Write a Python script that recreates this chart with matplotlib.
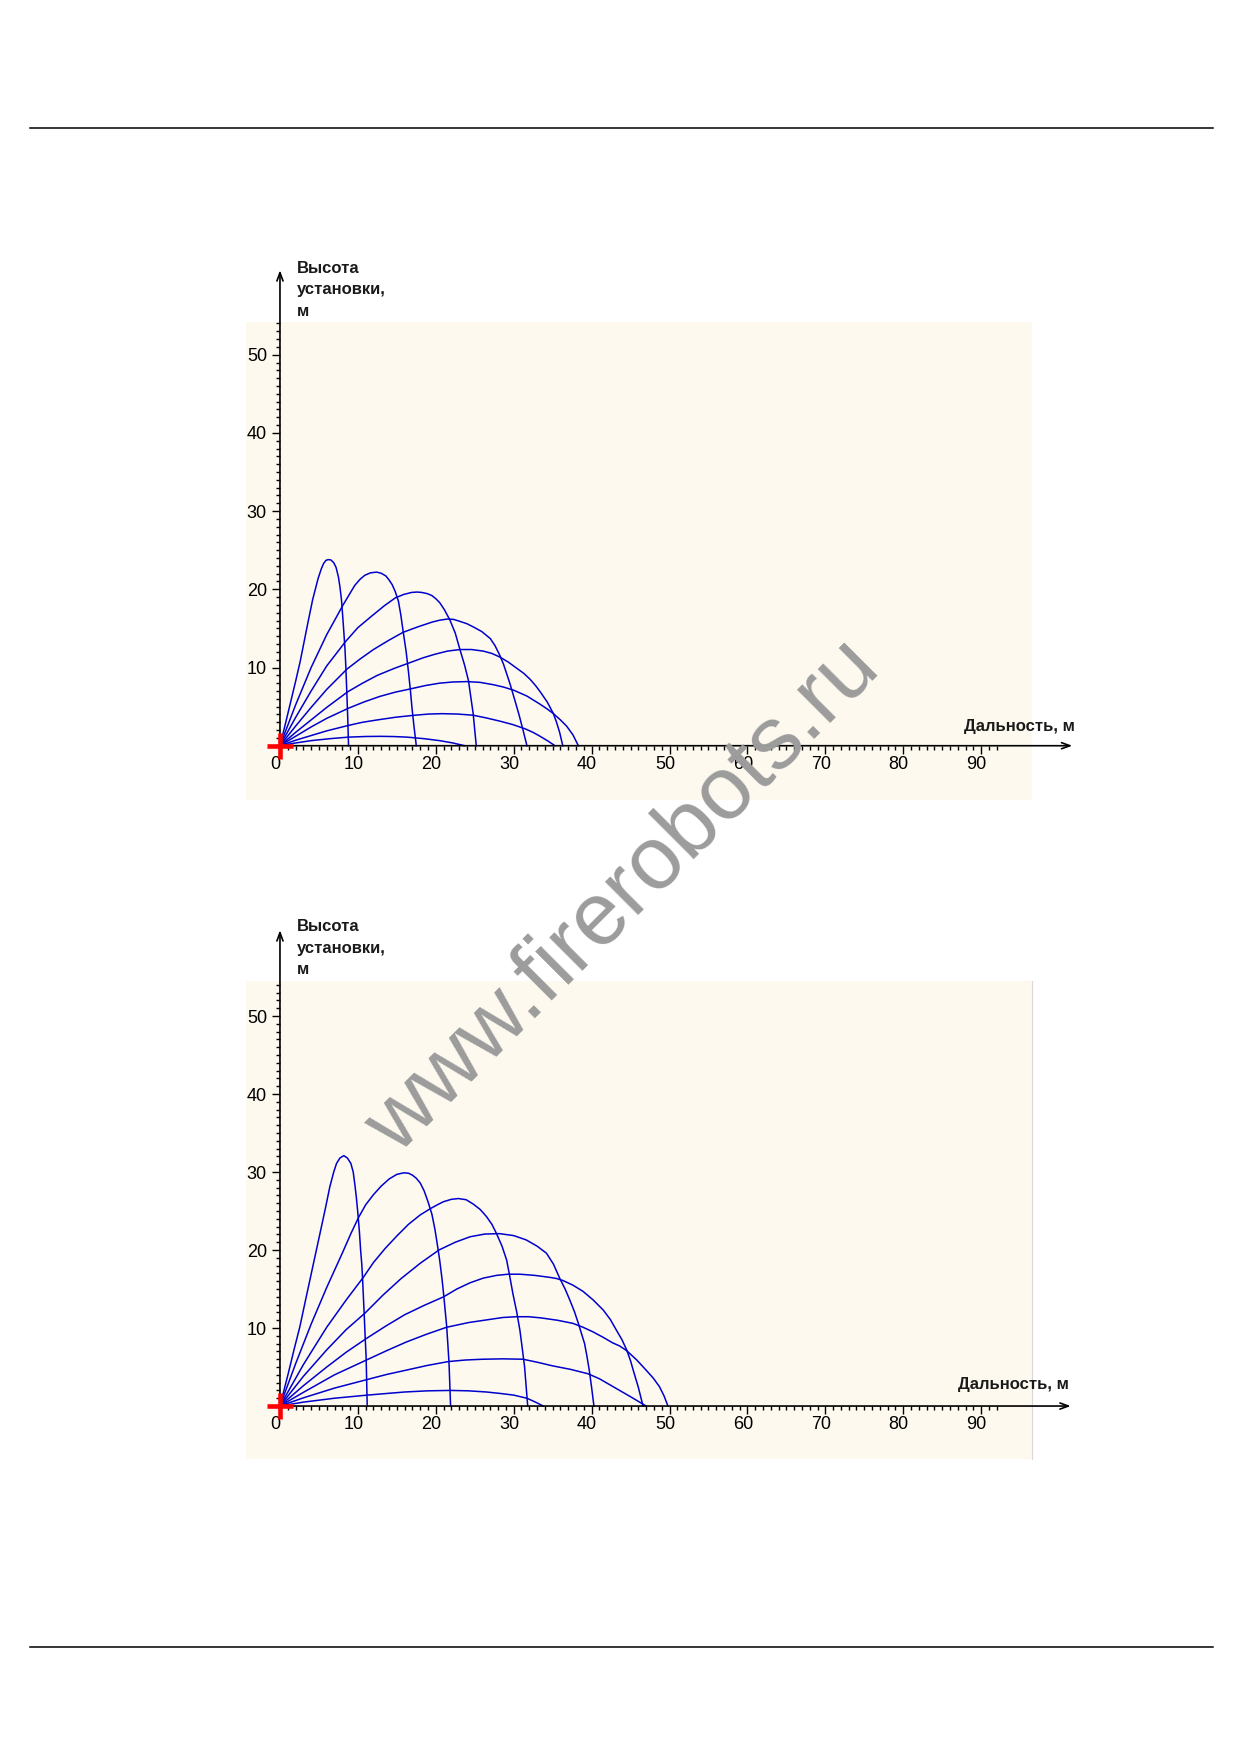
import matplotlib
matplotlib.use('Agg')
import matplotlib.pyplot as plt
from matplotlib.lines import Line2D
from matplotlib.transforms import offset_copy

# --- upper chart: jet trajectories for nozzle angles 80..10 deg ---
up80_x = [0, 0.6, 1.3, 2.0, 2.6, 3.1, 3.6, 4.2, 4.9, 5.3, 5.6, 5.9, 6.2, 6.55, 6.9, 7.2,
          7.5, 7.7, 7.9, 8.05, 8.2, 8.35, 8.45, 8.6, 8.7, 8.8]
up80_y = [0, 2.4, 5.3, 8.2, 10.8, 13.3, 15.8, 18.7, 21.4, 22.6, 23.3, 23.7, 23.8, 23.75, 23.4, 22.8,
          21.6, 20.3, 18.6, 16.6, 14.5, 12.3, 10.2, 6.3, 3.5, 0]
up70_x = [0, 2, 4, 6, 8.1, 9.6, 10.3, 10.9, 11.6, 12.4, 13.0, 13.6, 14.0, 14.4, 14.8, 15.2,
          15.5, 15.8, 16.2, 16.5, 16.75, 16.95, 17.2, 17.5]
up70_y = [0, 5.2, 10.0, 14.2, 18.0, 20.5, 21.3, 21.8, 22.1, 22.2, 22.05, 21.7, 21.2, 20.6, 19.7, 18.5,
          16.8, 14.7, 12.0, 9.4, 7.0, 4.8, 2.5, 0]
up60_x = [0, 2, 4, 6, 8.4, 10, 11.8, 13.4, 14.8, 15.9, 16.9, 17.6, 18.2, 18.9, 19.5, 20.0,
          20.5, 21.1, 21.8, 22.5, 23.1, 23.7, 24.2, 24.5, 24.8, 25.0, 25.2]
up60_y = [0, 3.6, 7.0, 10.2, 13.3, 15.1, 16.6, 17.9, 18.9, 19.35, 19.6, 19.65, 19.6, 19.45, 19.2, 18.8,
          18.3, 17.4, 16.1, 14.4, 12.3, 10.3, 8.3, 6.2, 4.1, 2.0, 0]
up50_x = [0, 2, 4, 6, 8.6, 10.3, 12, 14, 15.8, 17.7, 19.5, 20.5, 21.5, 22.3, 23.1, 24.0, 24.8,
          25.9, 27.0, 27.6, 28.2, 28.7, 29.1, 29.5, 29.8, 30.3, 30.7, 31.2, 31.7]
up50_y = [0, 2.5, 4.9, 7.2, 9.8, 11.1, 12.3, 13.5, 14.5, 15.2, 15.8, 16.05, 16.2, 16.15, 15.9, 15.6, 15.2,
          14.6, 13.7, 12.8, 11.6, 10.4, 9.2, 8.0, 7.0, 5.3, 3.9, 2.0, 0]
up40_x = [0, 2, 4, 6, 8.7, 10.6, 12.5, 14.7, 16.9, 18.4, 19.9, 21.5, 23.1, 24.6, 26.1, 27.2,
          28.2, 29.3, 30.4, 31.3, 32.1, 32.8, 33.4, 34.3, 35.1, 35.5, 35.9, 36.3]
up40_y = [0, 1.7, 3.3, 4.9, 6.9, 8.0, 9.0, 9.9, 10.7, 11.25, 11.7, 12.1, 12.3, 12.3, 12.1, 11.8,
          11.35, 10.7, 9.9, 9.25, 8.5, 7.7, 6.9, 5.6, 4.1, 3.0, 1.7, 0]
up30_x = [0, 2, 4, 6, 8.8, 10.8, 12.8, 14.8, 16.9, 18.7, 20.5, 22.2, 24.0, 25.7, 27.4, 28.7,
          30.0, 31.7, 33.4, 34.3, 35.1, 36.0, 36.8, 37.6, 38.3]
up30_y = [0, 1.2, 2.4, 3.5, 4.8, 5.6, 6.3, 6.85, 7.3, 7.7, 8.0, 8.15, 8.2, 8.1, 7.8, 7.5,
          7.1, 6.35, 5.3, 4.7, 4.1, 3.3, 2.5, 1.4, 0]
up20_x = [0, 2, 4, 6, 8.8, 10.6, 12.5, 14.9, 17.3, 19.1, 20.8, 22.8, 24.8, 26.5, 28.2, 29.9,
          31.5, 32.5, 33.4, 34.4, 35.3]
up20_y = [0, 0.7, 1.3, 1.9, 2.6, 3.0, 3.3, 3.65, 3.9, 4.05, 4.1, 4.05, 3.9, 3.55, 3.15, 2.7,
          2.15, 1.7, 1.2, 0.6, 0]
up10_x = [0, 2, 4, 6.4, 8.8, 11, 13, 14.7, 16.3, 18.5, 20.5, 22.2, 23.7]
up10_y = [0, 0.35, 0.65, 0.9, 1.1, 1.18, 1.2, 1.17, 1.1, 0.9, 0.65, 0.35, 0]

# --- lower chart ---
lo80_x = [0, 1.07, 1.8, 2.56, 3.2, 3.85, 4.5, 5.13, 5.8, 6.4, 6.9, 7.26, 7.7, 8.2, 8.65, 9.1,
          9.4, 9.6, 9.8, 10.0, 10.2, 10.35, 10.5, 10.6, 10.8, 10.95, 11.05, 11.1, 11.2]
lo80_y = [0, 4.2, 7.2, 10.2, 13.2, 16.2, 19.2, 22.1, 25.2, 28.1, 30.0, 31.1, 31.8, 32.1, 31.8, 31.1,
          30.0, 28.5, 26.8, 24.7, 22.3, 20.0, 18.2, 16.4, 12.0, 8.5, 6.5, 4.5, 0]
lo70_x = [0, 2, 4, 6, 8, 9.1, 10.1, 11, 12, 13, 14, 15, 15.9, 16.5, 17, 17.5, 18, 18.5, 19, 19.5,
          19.9, 20.2, 20.5, 20.8, 21.0, 21.2, 21.4, 21.55, 21.7, 21.8, 21.9]
lo70_y = [0, 5.4, 10.5, 15.2, 19.6, 22.1, 24.2, 25.8, 27.1, 28.2, 29.1, 29.7, 29.9, 29.85, 29.6, 29.2, 28.6,
          27.6, 26.2, 24.6, 22.6, 20.7, 18.7, 16.3, 14.4, 12.3, 10.2, 7.9, 5.5, 2.8, 0]
lo60_x = [0, 3, 6, 8.5, 10.7, 12, 13.5, 15, 16.5, 18, 19.3, 20.2, 21, 22, 22.9, 23.9, 24.8,
          25.7, 26.5, 27.2, 27.8, 28.5, 29.1, 29.5, 29.9, 30.4, 30.8, 31.1, 31.4, 31.6, 31.8]
lo60_y = [0, 5.3, 10.1, 13.6, 16.5, 18.4, 20.2, 21.8, 23.3, 24.5, 25.3, 25.8, 26.2, 26.5, 26.6, 26.45, 25.9,
          25.2, 24.3, 23.3, 22.1, 20.5, 18.7, 16.6, 14.4, 12.0, 9.7, 7.4, 5.0, 2.5, 0]
lo50_x = [0, 3, 6, 8.5, 10.9, 13.2, 15.5, 18, 20.4, 22.5, 24.4, 26.3, 28.2, 30.0, 31.6, 33.0,
          34.2, 35.1, 35.9, 36.6, 37.2, 37.8, 38.3, 38.7, 39.1, 39.4, 39.7, 40.0, 40.3]
lo50_y = [0, 3.8, 7.2, 9.8, 11.9, 14.2, 16.3, 18.3, 20.0, 21.0, 21.7, 22.05, 22.1, 21.85, 21.3, 20.5,
          19.6, 18.2, 16.4, 15.0, 13.6, 12.1, 10.6, 9.3, 8.0, 6.4, 4.6, 2.4, 0]
lo40_x = [0, 3, 6, 8.5, 11.0, 13.5, 16, 18.5, 21.0, 22.7, 24.4, 26.1, 27.8, 29.3, 30.8, 32.7,
          34.6, 35.5, 36.3, 37.6, 38.9, 40.2, 41.5, 42.4, 43.2, 43.9, 44.5, 45.0, 45.4, 46.0, 46.6]
lo40_y = [0, 2.6, 5.0, 6.9, 8.6, 10.2, 11.7, 12.9, 14.0, 15.0, 15.8, 16.4, 16.75, 16.9, 16.9, 16.75,
          16.5, 16.35, 16.1, 15.5, 14.7, 13.6, 12.3, 11.1, 9.7, 8.5, 7.2, 5.8, 4.4, 2.4, 0]
lo30_x = [0, 3, 7, 11.1, 13.7, 16.2, 18.8, 21.4, 24.2, 26.9, 28.6, 30.3, 31.9, 33.5, 35.6,
          37.6, 38.9, 40.2, 41.5, 42.7, 43.6, 44.5, 45.8, 47.0, 47.9, 48.7, 49.3, 49.8]
lo30_y = [0, 1.75, 4.0, 5.9, 7.1, 8.2, 9.2, 10.1, 10.7, 11.1, 11.35, 11.45, 11.45, 11.3, 11.0,
          10.6, 10.1, 9.5, 8.8, 8.1, 7.7, 7.1, 5.9, 4.6, 3.6, 2.5, 1.3, 0]
lo20_x = [0, 3, 7, 11.2, 13.7, 16.2, 18.9, 21.6, 23.8, 26, 28.6, 31.2, 33.1, 35.0, 37.3, 39.5,
          41.0, 42.3, 43.6, 44.9, 46.0, 47.0]
lo20_y = [0, 1.05, 2.3, 3.4, 4.05, 4.6, 5.2, 5.7, 5.9, 6.0, 6.05, 6.0, 5.6, 5.15, 4.7, 4.15,
          3.5, 2.75, 2.0, 1.25, 0.6, 0]
lo10_x = [0, 3, 7, 11.2, 13.6, 16, 19, 21.9, 24.2, 26.5, 28.4, 30, 31.7, 32.8, 33.8]
lo10_y = [0, 0.5, 1.0, 1.4, 1.6, 1.8, 1.95, 2.0, 1.95, 1.8, 1.6, 1.4, 1.0, 0.5, 0]

nozzle_x = [0]
nozzle_y = [0]

x_major = [0, 10, 20, 30, 40, 50, 60, 70, 80, 90]
x_labels = ['0', '10', '20', '30', '40', '50', '60', '70', '80', '90']
x_minor = list(range(1, 93))
y_major = [10, 20, 30, 40, 50]
y_labels = ['10', '20', '30', '40', '50']
y_minor = list(range(1, 55))

x_title = 'Дальность, м'
y_title = 'Высота\nустановки,\nм'
watermark = 'www.firerobots.ru'

BLUE = '#0000cd'
CREAM = '#fdf9ee'
NARROW = ['Liberation Sans Narrow', 'Liberation Sans', 'DejaVu Sans']
BOLD = ['Liberation Sans', 'DejaVu Sans']

W, H = 1239, 1754
fig = plt.figure(figsize=(W / 100, H / 100), dpi=100)


def px_rect(left, top, right, bottom):
    return [left / W, 1 - bottom / H, (right - left) / W, (bottom - top) / H]


def draw_chart(rect, ylim, curves, xt_pos, yt_pos, x_tip, y_tip, right_edge=False):
    ax = fig.add_axes(px_rect(*rect))
    ax.set_facecolor(CREAM)
    ax.set_xlim(-4.36, 96.53)
    ax.set_ylim(*ylim)
    for s in ('top', 'right'):
        ax.spines[s].set_visible(False)
    if right_edge:
        ax.spines['right'].set_visible(True)
        ax.spines['right'].set_color('#d8d8d8')
    for s in ('left', 'bottom'):
        ax.spines[s].set_position(('data', 0))
        ax.spines[s].set_color('none')

    ax.set_xticks(x_major)
    ax.set_xticks(x_minor, minor=True)
    ax.set_yticks(y_major)
    ax.set_yticks(y_minor, minor=True)
    ax.tick_params(which='major', length=5.5, width=1.0, direction='out', color='black',
                   labelbottom=False, labelleft=False)
    ax.tick_params(which='minor', length=3, width=1.0, direction='out', color='black')

    for cx, cy in curves:
        ax.plot(cx, cy, color=BLUE, lw=1.1, solid_joinstyle='round', zorder=3)

    arrow = dict(arrowstyle='->,head_length=0.6,head_width=0.22', lw=1.2, color='black',
                 shrinkA=0, shrinkB=0)
    ax.annotate('', xy=(x_tip, 0), xytext=(0, 0), arrowprops=arrow, annotation_clip=False)
    ax.annotate('', xy=(0, y_tip), xytext=(0, 0), arrowprops=arrow, annotation_clip=False)

    ax.plot(nozzle_x, nozzle_y, marker='+', color='#ff0000', ms=19, mew=3.3,
            clip_on=False, zorder=6)

    tx = offset_copy(ax.transData, fig=fig, x=-4.5, y=-10, units='dots')
    for v, s in zip(x_major, x_labels):
        ax.text(v, 0, s, transform=tx, ha='center', va='top', fontsize=13,
                family=NARROW, color='black')
    ty = offset_copy(ax.transData, fig=fig, x=-13, y=-2, units='dots')
    for v, s in zip(y_major, y_labels):
        ax.text(0, v, s, transform=ty, ha='right', va='center', fontsize=13,
                family=NARROW, color='black')

    ax.text(xt_pos[0], xt_pos[1], x_title, ha='right', va='center', fontsize=12,
            fontweight='bold', family=BOLD, color='#1a1a1a', clip_on=False)
    ax.text(yt_pos[0], yt_pos[1], y_title, ha='left', va='top', fontsize=12,
            fontweight='bold', family=BOLD, color='#1a1a1a', linespacing=1.54,
            clip_on=False)
    return ax


top_curves = [(up80_x, up80_y), (up70_x, up70_y), (up60_x, up60_y), (up50_x, up50_y),
              (up40_x, up40_y), (up30_x, up30_y), (up20_x, up20_y), (up10_x, up10_y)]
low_curves = [(lo80_x, lo80_y), (lo70_x, lo70_y), (lo60_x, lo60_y), (lo50_x, lo50_y),
              (lo40_x, lo40_y), (lo30_x, lo30_y), (lo20_x, lo20_y), (lo10_x, lo10_y)]

draw_chart((246, 322, 1032, 800), (-6.94, 54.18), top_curves,
           (102.0, 2.5), (2.2, 62.0), 101.7, 60.8)
draw_chart((246, 981, 1032, 1459), (-6.79, 54.49), low_curves,
           (101.2, 2.7), (2.2, 62.4), 101.5, 61.0, right_edge=True)

# page rules
for yy in (127.5, 1647):
    fig.add_artist(Line2D([30 / W, 1213 / W], [1 - yy / H, 1 - yy / H],
                          transform=fig.transFigure, color='black', lw=1.1))

fig.text(624 / W, 1 - 897 / H, watermark, rotation=45, ha='center', va='center',
         fontsize=64, color='#9c9c9c', family=BOLD, zorder=10)

fig.savefig('out.png', dpi=100, facecolor='white')
